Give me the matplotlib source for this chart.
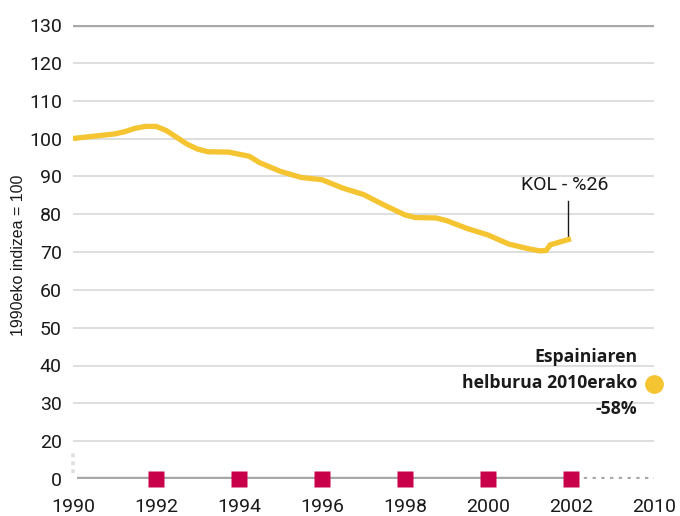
import numpy as np
import matplotlib
matplotlib.use("Agg")
import matplotlib.pyplot as plt

# ── DATA ──────────────────────────────────────────────────────────────────────
years = [1990.0, 1990.5, 1991.0, 1991.25, 1991.5, 1991.75, 1992.0, 1992.25,
         1992.5, 1992.75, 1993.0, 1993.25, 1993.75, 1994.25, 1994.5, 1995.0,
         1995.5, 1996.0, 1996.5, 1997.0, 1997.5, 1998.0, 1998.25, 1998.75,
         1999.0, 1999.5, 2000.0, 2000.5, 2001.0, 2001.25, 2001.4, 2001.5, 2002.0]
index = [100.0, 100.6, 101.2, 101.8, 102.7, 103.2, 103.2, 102.1,
         100.3, 98.5, 97.2, 96.5, 96.4, 95.3, 93.6, 91.3,
         89.7, 89.1, 86.9, 85.2, 82.4, 79.8, 79.1, 79.0,
         78.3, 76.2, 74.5, 72.1, 70.8, 70.3, 70.4, 71.9, 73.5]
marker_years = [1992, 1994, 1996, 1998, 2000, 2002]
tick_years = [1990, 1992, 1994, 1996, 1998, 2000, 2002, 2010]
tick_values = [0, 20, 30, 40, 50, 60, 70, 80, 90, 100, 110, 120, 130]
target_year = 2010
target_value = 35
last_label = "KOL - %26"
target_label = "Espainiaren\nhelburua 2010erako\n-58%"
ylabel = "1990eko indizea = 100"

# ── STYLE ─────────────────────────────────────────────────────────────────────
YELLOW = "#f5c431"
RED = "#c8004a"
GRID = "#dedede"
AXIS = "#a6a8aa"
TEXT = "#1a1a1a"
plt.rcParams["font.family"] = ["Roboto", "DejaVu Sans"]


def to_x(year):
    """Years up to 2002 every 2 years one slot, 2002 -> 2010 one slot."""
    year = np.asarray(year, dtype=float)
    return np.where(year <= 2002, (year - 1990) / 2, 6 + (year - 2002) / 8)


def to_y(value):
    """Broken axis: 0 sits one step below 20."""
    value = np.asarray(value, dtype=float)
    return np.where(value >= 20, value, 10 + value / 2)


fig = plt.figure(figsize=(6.8, 5.16), dpi=100)
ax = fig.add_axes([73 / 680, 1 - 479 / 516, (654 - 73) / 680, (479 - 25) / 516])
ax.set_xlim(0, 7)
ax.set_ylim(10, 130)
for s in ax.spines.values():
    s.set_visible(False)

# gridlines
for v in tick_values[1:-1]:
    ax.axhline(to_y(v), color=GRID, lw=1.4, zorder=1)
ax.axhline(to_y(130), color=AXIS, lw=2.4, zorder=1)

# zero line: solid to 2002, dotted to 2010
ax.plot([0.05, 6], [10, 10], color=AXIS, lw=3.2, solid_capstyle="butt", zorder=2)
ax.plot([6.05, 7], [10, 10], color=AXIS, lw=3.0, ls=(0, (0.8, 1.3)),
        solid_capstyle="butt", dash_capstyle="butt", zorder=2)
# axis break
ax.plot([0.005, 0.005], [11.5, 17.8], color=GRID, lw=2.6, ls=(0, (1, 1.2)),
        clip_on=False, zorder=2)

# series
ax.plot(to_x(years), to_y(index), color=YELLOW, lw=3.8, solid_capstyle="butt",
        solid_joinstyle="round", zorder=3)
ax.plot(to_x(marker_years), to_y([0] * len(marker_years)), ls="none", marker="s",
        ms=11.5, color=RED, mec="none", zorder=4, clip_on=False)

# target dot
ax.plot(to_x([target_year]), to_y([target_value]), marker="o", ms=13.5,
        color=YELLOW, mec="none", clip_on=False, zorder=4)
ax.text(to_x(target_year) - 0.2, to_y(target_value) + 0.3, target_label,
        ha="right", va="center", fontsize=12.7, fontweight="bold",
        family=["Open Sans", "DejaVu Sans"], color=TEXT, linespacing=1.58)

# last value annotation
lx = float(to_x(2002))
ax.plot([lx - 0.04, lx - 0.04], [to_y(index[-1]) + 0.5, 83.5], color=TEXT, lw=1)
ax.text(lx - 0.07, 87.8, last_label, ha="center", va="center", fontsize=14,
        color=TEXT)

ax.set_xticks(to_x(tick_years))
ax.set_xticklabels([str(y) for y in tick_years])
ax.set_yticks(to_y(tick_values))
ax.set_yticklabels([str(v) for v in tick_values])
ax.tick_params(length=0, labelsize=14, labelcolor=TEXT)
ax.tick_params(axis="y", pad=8)
ax.tick_params(axis="x", pad=14)

fig.text(19 / 680, 1 - 255 / 516, ylabel, rotation=90, ha="center", va="center",
         fontsize=11.5, color=TEXT, family=["Liberation Sans", "DejaVu Sans"])

fig.savefig("out.png", dpi=100)
